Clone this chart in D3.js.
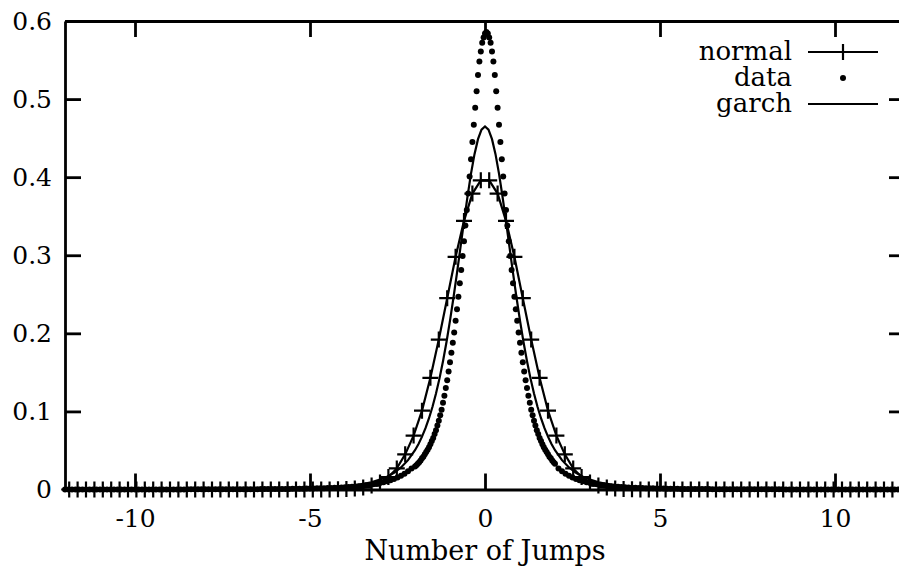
<!DOCTYPE html>
<html><head><meta charset="utf-8">
<script src="https://cdn.jsdelivr.net/npm/d3@7"></script>
<style>html,body{margin:0;padding:0;background:#fff;} svg{display:block;}</style>
</head><body>
<svg id="chart" width="899" height="570"></svg>
<script>
// ---------- data ----------
const xTickValues = [-10, -5, 0, 5, 10];
const xTickLabels = ["-10", "-5", "0", "5", "10"];
const yTickValues = [0, 0.1, 0.2, 0.3, 0.4, 0.5, 0.6];
const yTickLabels = ["0", "0.1", "0.2", "0.3", "0.4", "0.5", "0.6"];
const xAxisTitle = "Number of Jumps";
const seriesNames = ["normal", "data", "garch"];

// normal: bin centres at -11.88 + 0.24*k, k = 0..99
const normalStart = -11.88, normalStep = 0.24;
const normalValues = [
  0,0,0,0,0,0,0,0,0,0, 0,0,0,0,0,0,0,0,0,0, 0,0,0,0,0,0,0,0,0,0, 0,0.0001,0.0002,
  0.0005,0.0012,0.0025,0.005,0.009,0.016,0.027,0.045,0.069,0.101,0.143,0.192,0.245,0.298,0.344,0.379,0.396,
  0.396,0.379,0.344,0.298,0.245,0.192,0.143,0.101,0.069,0.045,0.027,0.016,0.009,0.005,0.0025,0.0012,0.0005,
  0.0002,0.0001,0,0,0,0,0,0,0,0,0,0, 0,0,0,0,0,0,0,0,0,0, 0,0,0,0,0,0,0,0,0,0
];

// data (dots): centre part, x = -2.00 + 0.04*i, i = 0..100
const dataCoreStart = -2.0, dataCoreStep = 0.04;
const dataCoreValues = [
  0.0295,0.031,0.033,0.035,0.037,0.040,0.042,0.045,0.048,0.051,0.054,0.058,0.062,0.066,0.071,0.076,0.082,0.088,0.095,0.102,
  0.111,0.120,0.130,0.140,0.151,0.163,0.175,0.188,0.201,0.216,0.231,0.247,0.264,0.281,0.299,0.318,0.338,0.358,0.379,0.401,
  0.423,0.445,0.467,0.489,0.510,0.531,0.548,0.561,0.572,0.579,0.584,
  0.586,
  0.584,0.579,0.572,0.561,0.548,0.531,0.510,0.489,0.467,0.445,0.423,0.401,0.379,0.358,0.338,0.318,0.299,0.281,0.264,0.247,
  0.231,0.216,0.201,0.188,0.175,0.163,0.151,0.140,0.130,0.120,0.111,0.102,0.095,0.088,0.082,0.076,0.071,0.066,0.062,0.058,
  0.054,0.051,0.048,0.045,0.042,0.040,0.037,0.035,0.033
];
// data tails: right x = 2.1 + 0.1*i, left x = -12.0 + 0.1*i, i = 0..99
const dataRightStart = 2.1, dataLeftStart = -12.0, dataTailStep = 0.1;
const dataRightValues = [
  0.027,0.0235,0.0203,0.0177,0.0154,0.0135,0.0119,0.0105,0.0093,0.0082,
  0.0073,0.0066,0.0059,0.0053,0.0047,0.0043,0.0039,0.0035,0.0032,0.0029,
  0.0026,0.0024,0.0022,0.0020,0.0019,0.0017,0.0016,0.0015,0.0014,0.0013,
  0.0012,0.0011,0.0010,0.0010,0.0009,0.0008,0.0008,0.0007,0.0007,0.0006,
  0.0006,0.0005,0.0005,0.0005,0.0004,0.0004,0.0004,0.0004,0.0003,0.0003,
  0.0003,0.0003,0.0003,0.0003,0.0003,0.0002,0.0002,0.0002,0.0002,0.0002,
  0.0002,0.0002,0.0002,0.0002,0.0002,0.0001,0.0001,0.0001,0.0001,0.0001,
  0.0001,0.0001,0.0001,0.0001,0.0001,0.0001,0.0001,0.0001,0.0001,0.0001,
  0.0001,0.0001,0.0001,0.0001,0.0001,0.0001,0.0001,0.0001,0.0001,0.0001,
  0.0001,0.0001,0.0001,0.0001,0.0001,0.0001,0.0001,0.0001,0.0001,0.0001
];
const dataLeftValues = [
  0.0001,0.0001,0.0001,0.0001,0.0001,0.0001,0.0001,0.0001,0.0001,0.0001,
  0.0001,0.0001,0.0001,0.0001,0.0001,0.0001,0.0001,0.0001,0.0001,0.0001,
  0.0001,0.0001,0.0001,0.0001,0.0001,0.0001,0.0001,0.0001,0.0001,0.0001,
  0.0001,0.0001,0.0001,0.0001,0.0001,0.0002,0.0002,0.0002,0.0002,0.0002,
  0.0002,0.0002,0.0002,0.0002,0.0002,0.0003,0.0003,0.0003,0.0003,0.0003,
  0.0003,0.0003,0.0004,0.0004,0.0004,0.0004,0.0005,0.0005,0.0005,0.0006,
  0.0006,0.0007,0.0007,0.0008,0.0008,0.0009,0.0010,0.0010,0.0011,0.0012,
  0.0013,0.0014,0.0015,0.0016,0.0017,0.0019,0.0020,0.0022,0.0024,0.0026,
  0.0029,0.0032,0.0035,0.0039,0.0043,0.0047,0.0053,0.0059,0.0066,0.0073,
  0.0082,0.0093,0.0105,0.0119,0.0135,0.0154,0.0177,0.0203,0.0235,0.027
];

// garch (solid line)
const garchX = [-12,-10,-8,-7,-6,-5,-4.5,-4,-3.75,-3.5,-3.25,-3,-2.8,-2.6,-2.4,-2.2,
  -2,-1.9,-1.8,-1.7,-1.6,-1.5,-1.4,-1.3,-1.2,-1.1,-1,-0.9,-0.8,-0.7,-0.6,-0.5,-0.4,-0.3,-0.2,-0.1,
  0,0.1,0.2,0.3,0.4,0.5,0.6,0.7,0.8,0.9,1,1.1,1.2,1.3,1.4,1.5,1.6,1.7,1.8,1.9,2,
  2.2,2.4,2.6,2.8,3,3.25,3.5,3.75,4,4.5,5,6,7,8,10,12];
const garchY = [0,0.0001,0.0002,0.0003,0.0006,0.0015,0.0024,0.0040,0.0052,0.0069,0.0093,0.0127,0.0164,0.0214,0.0283,0.0376,
  0.0503,0.0583,0.0677,0.0786,0.0913,0.1060,0.1230,0.1423,0.1643,0.1889,0.2162,0.2459,0.2775,0.3103,0.3433,0.3752,0.4045,0.4295,0.4487,0.4609,
  0.465,0.4609,0.4487,0.4295,0.4045,0.3752,0.3433,0.3103,0.2775,0.2459,0.2162,0.1889,0.1643,0.1423,0.1230,0.1060,0.0913,0.0786,0.0677,0.0583,0.0503,
  0.0376,0.0283,0.0214,0.0164,0.0127,0.0093,0.0069,0.0052,0.0040,0.0024,0.0015,0.0006,0.0003,0.0002,0.0001,0];

// ---------- build point sets ----------
const normalPts = normalValues.map((v, i) => [normalStart + normalStep * i, v]);
const dataPts = [].concat(
  dataLeftValues.map((v, i) => [dataLeftStart + dataTailStep * i, v]),
  dataCoreValues.map((v, i) => [dataCoreStart + dataCoreStep * i, v]),
  dataRightValues.map((v, i) => [dataRightStart + dataTailStep * i, v])
);
const garchPts = garchX.map((x, i) => [x, garchY[i]]);

// ---------- drawing ----------
const FONT = "'DejaVu Serif', serif";
const svg = d3.select("#chart");
const x = d3.scaleLinear().domain([-12, 12]).range([65, 905]);
const y = d3.scaleLinear().domain([0, 0.6]).range([489.5, 21]);

const line = d3.line().x(d => x(d[0])).y(d => y(d[1]));

svg.append("path").datum(garchPts).attr("d", line)
  .attr("fill", "none").attr("stroke", "#000").attr("stroke-width", 2.2);
svg.append("path").datum(normalPts).attr("d", line)
  .attr("fill", "none").attr("stroke", "#000").attr("stroke-width", 2.2);

const plus = (g, cx, cy, s) => {
  g.append("path").attr("d", `M${cx - s},${cy}H${cx + s}M${cx},${cy - s}V${cy + s}`)
    .attr("stroke", "#000").attr("stroke-width", 2.2).attr("fill", "none");
};
const markers = svg.append("g");
normalPts.forEach(p => plus(markers, x(p[0]), y(p[1]), 8));

svg.append("g").selectAll("circle").data(dataPts).join("circle")
  .attr("cx", d => x(d[0])).attr("cy", d => y(d[1])).attr("r", 3).attr("fill", "#000");

// axes
function styleAxis(g) {
  g.select(".domain").attr("stroke", "#000").attr("stroke-width", 2.8);
  g.selectAll(".tick line").attr("stroke", "#000").attr("stroke-width", 2.8);
  g.selectAll("text").attr("font-family", FONT).attr("font-size", 25).attr("fill", "#000");
}
const gB = svg.append("g").attr("transform", `translate(0,${y(0)})`)
  .call(d3.axisBottom(x).tickValues(xTickValues).tickFormat((d, i) => xTickLabels[i])
    .tickSize(-16).tickSizeOuter(0).tickPadding(20));
styleAxis(gB);
const gT = svg.append("g").attr("transform", `translate(0,${y(0.6)})`)
  .call(d3.axisTop(x).tickValues(xTickValues).tickFormat("").tickSize(-16).tickSizeOuter(0));
styleAxis(gT);
const gL = svg.append("g").attr("transform", `translate(${x(-12)},0)`)
  .call(d3.axisLeft(y).tickValues(yTickValues).tickFormat((d, i) => yTickLabels[i])
    .tickSize(-16).tickSizeOuter(0).tickPadding(13));
styleAxis(gL);
const gR = svg.append("g").attr("transform", `translate(${x(12)},0)`)
  .call(d3.axisRight(y).tickValues(yTickValues).tickFormat("").tickSize(-16).tickSizeOuter(0));
styleAxis(gR);

// axis title
svg.append("text").attr("x", x(0)).attr("y", 560).attr("text-anchor", "middle")
  .attr("font-family", FONT).attr("font-size", 27).attr("fill", "#000").text(xAxisTitle);

// legend
const legY = [52, 78, 104];
const lg = svg.append("g");
seriesNames.forEach((name, i) => {
  lg.append("text").attr("x", 792).attr("y", legY[i] + 8).attr("text-anchor", "end")
    .attr("font-family", FONT).attr("font-size", 26).attr("fill", "#000").text(name);
});
lg.append("line").attr("x1", 808).attr("x2", 878).attr("y1", legY[0]).attr("y2", legY[0])
  .attr("stroke", "#000").attr("stroke-width", 2.2);
plus(lg, 843, legY[0], 8);
lg.append("circle").attr("cx", 843).attr("cy", legY[1]).attr("r", 3).attr("fill", "#000");
lg.append("line").attr("x1", 808).attr("x2", 878).attr("y1", legY[2]).attr("y2", legY[2])
  .attr("stroke", "#000").attr("stroke-width", 2.2);
</script>
</body></html>
